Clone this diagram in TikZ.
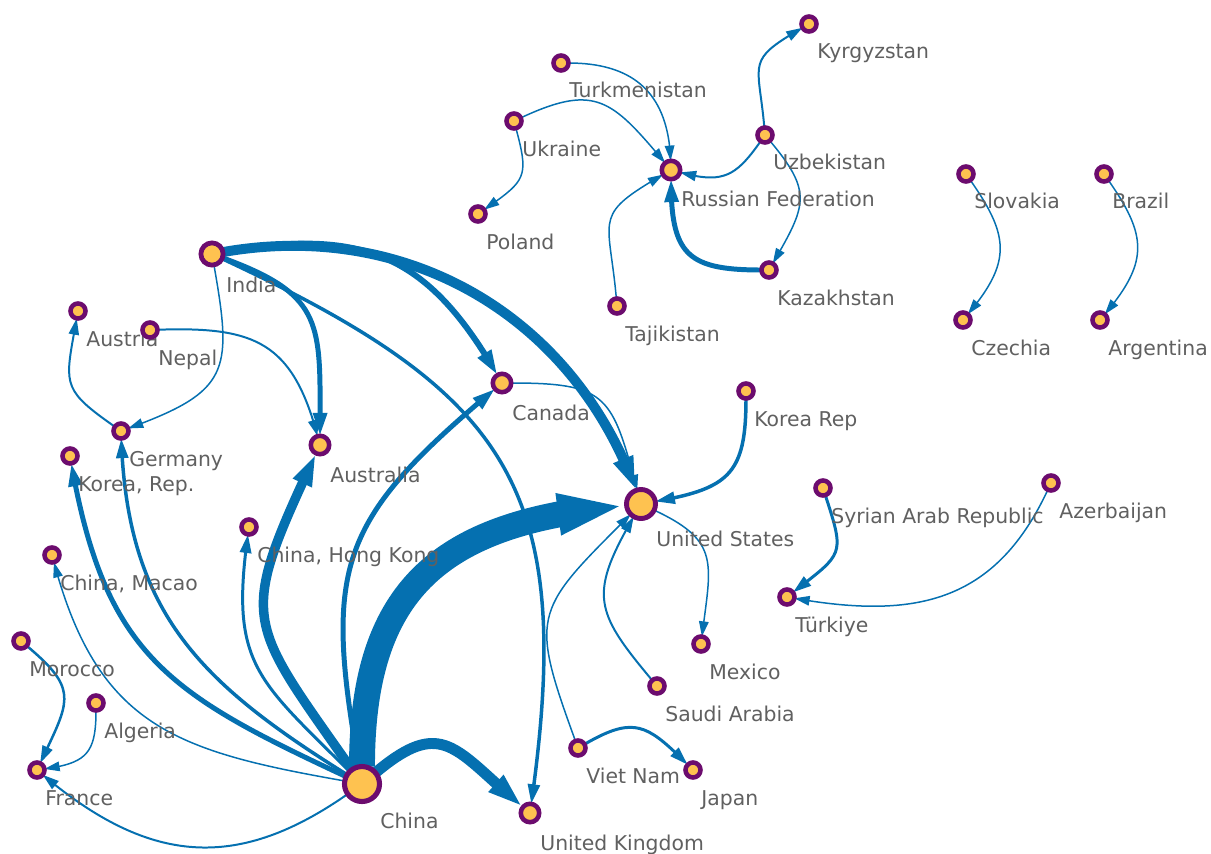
\documentclass[tikz,border=0pt]{standalone}
\usepackage{fontspec}
\setmainfont{DejaVu Sans}
\usetikzlibrary{arrows.meta,bending}
\definecolor{eb}{RGB}{5,112,176}
\definecolor{np}{RGB}{108,12,110}
\definecolor{ny}{RGB}{254,194,80}
\definecolor{tg}{RGB}{96,96,96}
\pgfdeclarelayer{edges}
\pgfsetlayers{edges,main}
\tikzset{
  nd/.style={circle, draw=np, fill=ny, inner sep=0pt, outer sep=0pt},
  sm/.style={nd, minimum size=0.30cm, line width=2.6pt},
  md/.style={nd, minimum size=0.368cm, line width=2.6pt},
  bg/.style={nd, minimum size=0.444cm, line width=2.7pt},
  us/.style={nd, minimum size=0.58cm, line width=2.8pt},
  cn/.style={nd, minimum size=0.70cm, line width=2.9pt},
  lbl/.style={text=tg, font=\fontsize{11.6}{13}\selectfont, anchor=base west, inner sep=0pt},
  smlbl/.style={xshift=0.16cm, yshift=-0.70cm},
  mdlbl/.style={xshift=0.20cm, yshift=-0.74cm},
  bglbl/.style={xshift=0.28cm, yshift=-0.76cm},
  uslbl/.style={xshift=0.30cm, yshift=-0.84cm},
  cnlbl/.style={xshift=0.36cm, yshift=-0.88cm},
  ed/.style={draw=eb, line width=#1*0.567pt,
    -{Triangle[length=6.8pt 2.2, width=4.5pt 1.1]}}
}
\newcommand\country[4]{\node[#1] (#2) at (#3) {}; \node[lbl, #1lbl] at (#2.center) {#4};}
\begin{document}
\begin{tikzpicture}[x=0.02cm, y=-0.02cm]
\useasboundingbox (0,0) rectangle (1211,853);
% nodes
\country{sm}{kgz}{809,24}{Kyrgyzstan}
\country{sm}{tkm}{561,63}{Turkmenistan}
\country{sm}{ukr}{514,121}{Ukraine}
\country{sm}{uzb}{765,135}{Uzbekistan}
\country{md}{rus}{671,170}{Russian Federation}
\country{sm}{svk}{966,174}{Slovakia}
\country{sm}{bra}{1104,174}{Brazil}
\country{sm}{pol}{478,214}{Poland}
\country{sm}{kaz}{769,270}{Kazakhstan}
\country{sm}{tjk}{617,306}{Tajikistan}
\country{sm}{cze}{963,320}{Czechia}
\country{sm}{arg}{1100,320}{Argentina}
\country{bg}{ind}{212,254}{India}
\country{sm}{aut}{78,311}{Austria}
\country{sm}{npl}{150,330}{Nepal}
\country{sm}{deu}{121,431}{Germany}
\country{md}{aus}{320,445}{Australia}
\country{sm}{kor}{70,456}{Korea, Rep.}
\country{sm}{hkg}{249,527}{China, Hong Kong}
\country{sm}{mac}{52,555}{China, Macao}
\country{sm}{mar}{21,641}{Morocco}
\country{sm}{dza}{96,703}{Algeria}
\country{sm}{fra}{37,770}{France}
\country{cn}{chn}{362,784}{China}
\country{md}{can}{502,383}{Canada}
\country{us}{usa}{641,504}{United States}
\country{sm}{krp}{746,391}{Korea Rep}
\country{sm}{mex}{701,644}{Mexico}
\country{sm}{sau}{657,686}{Saudi Arabia}
\country{sm}{vnm}{578,748}{Viet Nam}
\country{sm}{jpn}{693,770}{Japan}
\country{md}{gbr}{530,813}{United Kingdom}
\country{sm}{syr}{823,488}{Syrian Arab Republic}
\country{sm}{aze}{1051,483}{Azerbaijan}
\country{sm}{tur}{787,597}{Türkiye}
% edges
\begin{pgfonlayer}{edges}
\draw[ed=26] (chn) to[out=90,in=185,looseness=1.25] (usa);
\draw[ed=11] (chn) to[out=40,in=140,looseness=1.5] (gbr);
\draw[ed=9.5] (chn) to[out=125,in=245,looseness=1.5] (aus);
\draw[ed=5] (chn) to[out=100,in=220,looseness=1.3] (can);
\draw[ed=5] (chn) to[out=155,in=280,looseness=1.2] (kor);
\draw[ed=3.5] (chn) to[out=148,in=272,looseness=1.1] (deu);
\draw[ed=3] (chn) to[out=135,in=262,looseness=1.3] (hkg);
\draw[ed=1.5] (chn) to[out=170,in=285,looseness=1.2] (mac);
\draw[ed=2] (chn) to[out=215,in=-40,looseness=1.15] (fra);
\draw[ed=10] (ind) to[out=10,in=110] (usa);
\draw[ed=6] (ind) to[out=10,in=120,looseness=1.2] (can);
\draw[ed=5] (ind) to[out=-20,in=90,looseness=1.4] (aus);
\draw[ed=3.5] (ind) to[out=-25,in=82,looseness=1.3] (gbr);
\draw[ed=1.5] (ind) to[out=-80,in=20,looseness=1.5] (deu);
\draw[ed=2] (npl) to[out=2,in=105,looseness=1.3] (aus);
\draw[ed=2] (deu) to[out=145,in=260,looseness=1.5] (aut);
\draw[ed=1.5] (can) to[out=0,in=105,looseness=1.5] (usa);
\draw[ed=3.5] (krp) to[out=-90,in=10,looseness=1.4] (usa);
\draw[ed=1.5] (usa) to[out=-25,in=83,looseness=1.4] (mex);
\draw[ed=2] (sau) to[out=130,in=240,looseness=1.4] (usa);
\draw[ed=1.5] (vnm) to[out=110,in=225,looseness=1.5] (usa);
\draw[ed=3] (vnm) to[out=30,in=135,looseness=1.4] (jpn);
\draw[ed=3] (syr) to[out=-72,in=38,looseness=1.6] (tur);
\draw[ed=1.5] (aze) to[out=-115,in=-10,looseness=1.15] (tur);
\draw[ed=1.5] (svk) to[out=-55,in=50,looseness=1.3] (cze);
\draw[ed=1.5] (bra) to[out=-55,in=50,looseness=1.3] (arg);
\draw[ed=1.5] (tkm) to[out=0,in=92,looseness=1.2] (rus);
\draw[ed=1.5] (ukr) to[out=25,in=130,looseness=1.4] (rus);
\draw[ed=1.5] (ukr) to[out=-75,in=35,looseness=1.5] (pol);
\draw[ed=1.5] (tjk) to[out=95,in=210,looseness=1.6] (rus);
\draw[ed=2] (uzb) to[out=-125,in=-15,looseness=1.3] (rus);
\draw[ed=2] (uzb) to[out=95,in=210,looseness=1.6] (kgz);
\draw[ed=1.5] (uzb) to[out=-50,in=60,looseness=1.4] (kaz);
\draw[ed=5] (kaz) to[out=180,in=270,looseness=1.5] (rus);
\draw[ed=2.5] (mar) to[out=-40,in=65,looseness=1.5] (fra);
\draw[ed=1.5] (dza) to[out=-90,in=8,looseness=1.4] (fra);
\end{pgfonlayer}
\end{tikzpicture}
\end{document}
